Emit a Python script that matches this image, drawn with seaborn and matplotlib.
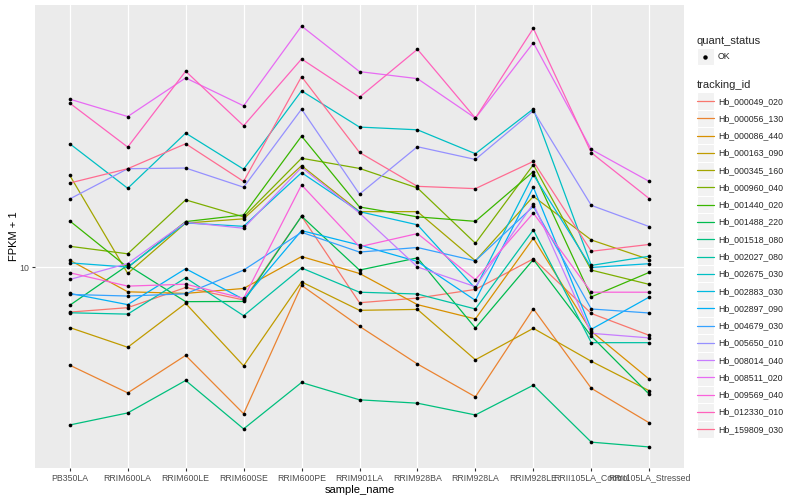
import numpy as np
import pandas as pd
import seaborn as sns
import matplotlib
matplotlib.use("Agg")
import matplotlib.pyplot as plt
from matplotlib.lines import Line2D
from matplotlib.patches import Rectangle
from matplotlib.legend_handler import HandlerBase
from matplotlib.ticker import NullLocator

# muestras en el eje x
samples = ["PB350LA", "RRIM600LA", "RRIM600LE", "RRIM600SE", "RRIM600PE", "RRIM901LA",
           "RRIM928BA", "RRIM928LA", "RRIM928LE", "RRII105LA_Control", "RRII105LA_Stressed"]

# FPKM + 1 por gen
hb_000049_020 = [7.73, 7.93, 8.91, 8.29, 13.44, 8.16, 8.38, 8.81, 10.51, 7.67, 6.76]
hb_000056_130 = [5.69, 4.85, 6.02, 4.30, 9.02, 7.12, 5.73, 4.74, 7.88, 4.98, 4.08]
hb_000086_440 = [10.43, 8.69, 8.61, 8.86, 10.65, 9.66, 8.07, 7.43, 11.84, 6.92, 5.25]
hb_000163_090 = [7.07, 6.31, 8.13, 5.67, 9.20, 7.81, 7.85, 5.87, 7.04, 5.82, 4.91]
hb_000345_160 = [17.01, 9.66, 12.92, 13.24, 17.99, 13.8, 13.8, 10.39, 15.07, 11.72, 10.47]
hb_000960_040 = [11.3, 10.82, 14.77, 13.39, 18.78, 17.71, 15.82, 11.5, 18.09, 9.85, 9.07]
hb_001440_020 = [13.08, 10.0, 13.03, 13.54, 21.34, 14.18, 13.39, 13.05, 17.38, 8.44, 9.72]
hb_001488_220 = [8.04, 10.13, 8.21, 8.22, 13.44, 9.85, 10.57, 7.05, 10.47, 6.73, 4.81]
hb_001518_080 = [4.03, 4.32, 5.21, 3.94, 5.15, 4.66, 4.57, 4.27, 5.07, 3.65, 3.55]
hb_002027_080 = [7.7, 7.64, 9.42, 7.57, 9.97, 8.67, 8.58, 7.87, 12.42, 6.48, 6.48]
hb_002675_030 = [20.42, 15.79, 21.71, 17.63, 27.7, 22.48, 22.13, 19.28, 24.97, 10.12, 10.67]
hb_002883_030 = [10.27, 10.02, 12.93, 12.68, 17.28, 13.8, 12.79, 8.86, 17.08, 10.0, 10.22]
hb_002897_090 = [8.61, 8.07, 9.93, 8.32, 12.37, 11.38, 10.35, 8.27, 15.89, 7.0, 8.43]
hb_004679_030 = [8.56, 8.48, 8.59, 9.85, 12.25, 10.93, 11.22, 10.39, 14.23, 7.87, 7.69]
hb_005650_010 = [14.85, 17.68, 17.75, 15.89, 24.93, 15.27, 20.07, 18.65, 24.69, 14.31, 12.66]
hb_008014_040 = [9.33, 10.23, 12.98, 12.54, 17.81, 13.69, 10.03, 8.95, 14.45, 6.84, 6.66]
hb_008511_020 = [26.41, 23.89, 29.85, 25.41, 40.27, 30.96, 29.73, 23.67, 36.58, 19.76, 16.43]
hb_009569_040 = [9.7, 8.98, 9.08, 8.37, 16.1, 11.27, 12.16, 9.32, 13.69, 8.67, 8.67]
hb_012330_010 = [25.81, 20.03, 31.03, 22.65, 33.3, 26.71, 35.22, 23.67, 39.74, 19.39, 14.88]
hb_159809_030 = [16.28, 17.68, 20.42, 16.43, 30.08, 19.42, 15.97, 15.76, 18.44, 10.98, 11.42]

ids = ["Hb_000049_020", "Hb_000056_130", "Hb_000086_440", "Hb_000163_090", "Hb_000345_160",
       "Hb_000960_040", "Hb_001440_020", "Hb_001488_220", "Hb_001518_080", "Hb_002027_080",
       "Hb_002675_030", "Hb_002883_030", "Hb_002897_090", "Hb_004679_030", "Hb_005650_010",
       "Hb_008014_040", "Hb_008511_020", "Hb_009569_040", "Hb_012330_010", "Hb_159809_030"]
series = [hb_000049_020, hb_000056_130, hb_000086_440, hb_000163_090, hb_000345_160,
          hb_000960_040, hb_001440_020, hb_001488_220, hb_001518_080, hb_002027_080,
          hb_002675_030, hb_002883_030, hb_002897_090, hb_004679_030, hb_005650_010,
          hb_008014_040, hb_008511_020, hb_009569_040, hb_012330_010, hb_159809_030]
# paleta hue de ggplot para 20 niveles
colors = ["#F8766D", "#EA8331", "#D89000", "#C09B00", "#A3A500", "#7CAE00", "#39B600", "#00BB4E",
          "#00BF7D", "#00C1A3", "#00BFC4", "#00BAE0", "#00B0F6", "#35A2FF", "#9590FF", "#C77CFF",
          "#E76BF3", "#FA62DB", "#FF62BC", "#FF6C91"]

rows = []
for tid, v in zip(ids, series):
    for s, f in zip(samples, v):
        rows.append({"sample_name": s, "tracking_id": tid, "fpkm": f})
df = pd.DataFrame(rows)

sns.set_theme(style="darkgrid", rc={"axes.facecolor": "#EBEBEB", "grid.color": "white"})
plt.rcParams["font.family"] = ["Liberation Sans", "DejaVu Sans"]

fig = plt.figure(figsize=(8, 5), dpi=100)
ax = fig.add_axes([35 / 800, 1 - 468 / 500, 649 / 800, 463 / 500])

sns.lineplot(data=df, x="sample_name", y="fpkm", hue="tracking_id", hue_order=ids,
             palette=dict(zip(ids, colors)), estimator=None, sort=False, legend=False,
             lw=0.9, ax=ax)
sns.scatterplot(data=df, x="sample_name", y="fpkm", color="black", s=7, linewidth=0,
                legend=False, ax=ax, zorder=3)

ax.set_yscale("log")
lo, hi = np.log10(df["fpkm"].min()), np.log10(df["fpkm"].max())
pad = 0.05 * (hi - lo)
ax.set_ylim(10 ** (lo - pad), 10 ** (hi + pad))
ax.set_yticks([10])
ax.set_yticklabels(["10"])
ax.yaxis.set_minor_locator(NullLocator())
ax.set_xlim(-0.6, len(samples) - 0.4)
ax.grid(True, color="white", lw=0.9)
for sp in ax.spines.values():
    sp.set_visible(False)
ax.tick_params(axis="both", length=2.5, width=0.8, color="#333333", labelsize=6.3,
               labelcolor="#4D4D4D", pad=1.5, bottom=True, left=True)
ax.set_xlabel("sample_name", fontsize=8, labelpad=2, color="black")
ax.set_ylabel("FPKM + 1", fontsize=8, labelpad=0.5, color="black")


class KeyHandler(HandlerBase):
    # caja gris tipo ggplot con la linea (o el punto) centrada
    def create_artists(self, legend, orig_handle, xdescent, ydescent, width, height, fontsize, trans):
        x0, y0 = -xdescent, -ydescent
        yc = y0 + height / 2
        bg = Rectangle((x0, y0), width, height, facecolor="#F2F2F2", edgecolor="white",
                       lw=0.8, transform=trans)
        if orig_handle.get_linestyle() == "None":
            mk = Line2D([x0 + width / 2], [yc], marker="o", ms=orig_handle.get_markersize(),
                        color="black", ls="none", transform=trans)
        else:
            mk = Line2D([x0, x0 + width], [yc, yc], color=orig_handle.get_color(),
                        lw=orig_handle.get_linewidth(), transform=trans)
        return [bg, mk]


leg_kw = dict(loc="upper left", frameon=False, borderpad=0, borderaxespad=0, labelspacing=0,
              handlelength=1.98, handleheight=2.66, handletextpad=0.45, fontsize=6.3,
              title_fontsize=8, alignment="left", handler_map={Line2D: KeyHandler()})
h1 = [Line2D([], [], marker="o", color="black", ls="none", ms=2.2)]
leg1 = fig.legend(h1, ["OK"], title="quant_status",
                  bbox_to_anchor=(696.5 / 800, 1 - 36 / 500), **leg_kw)
leg1._legend_box.sep = 1.4
h2 = [Line2D([], [], color=c, lw=0.9) for c in colors]
leg2 = fig.legend(h2, ids, title="tracking_id",
                  bbox_to_anchor=(696.5 / 800, 1 - 80.5 / 500), **leg_kw)
leg2._legend_box.sep = 1.4

fig.savefig("out.png", dpi=100)
